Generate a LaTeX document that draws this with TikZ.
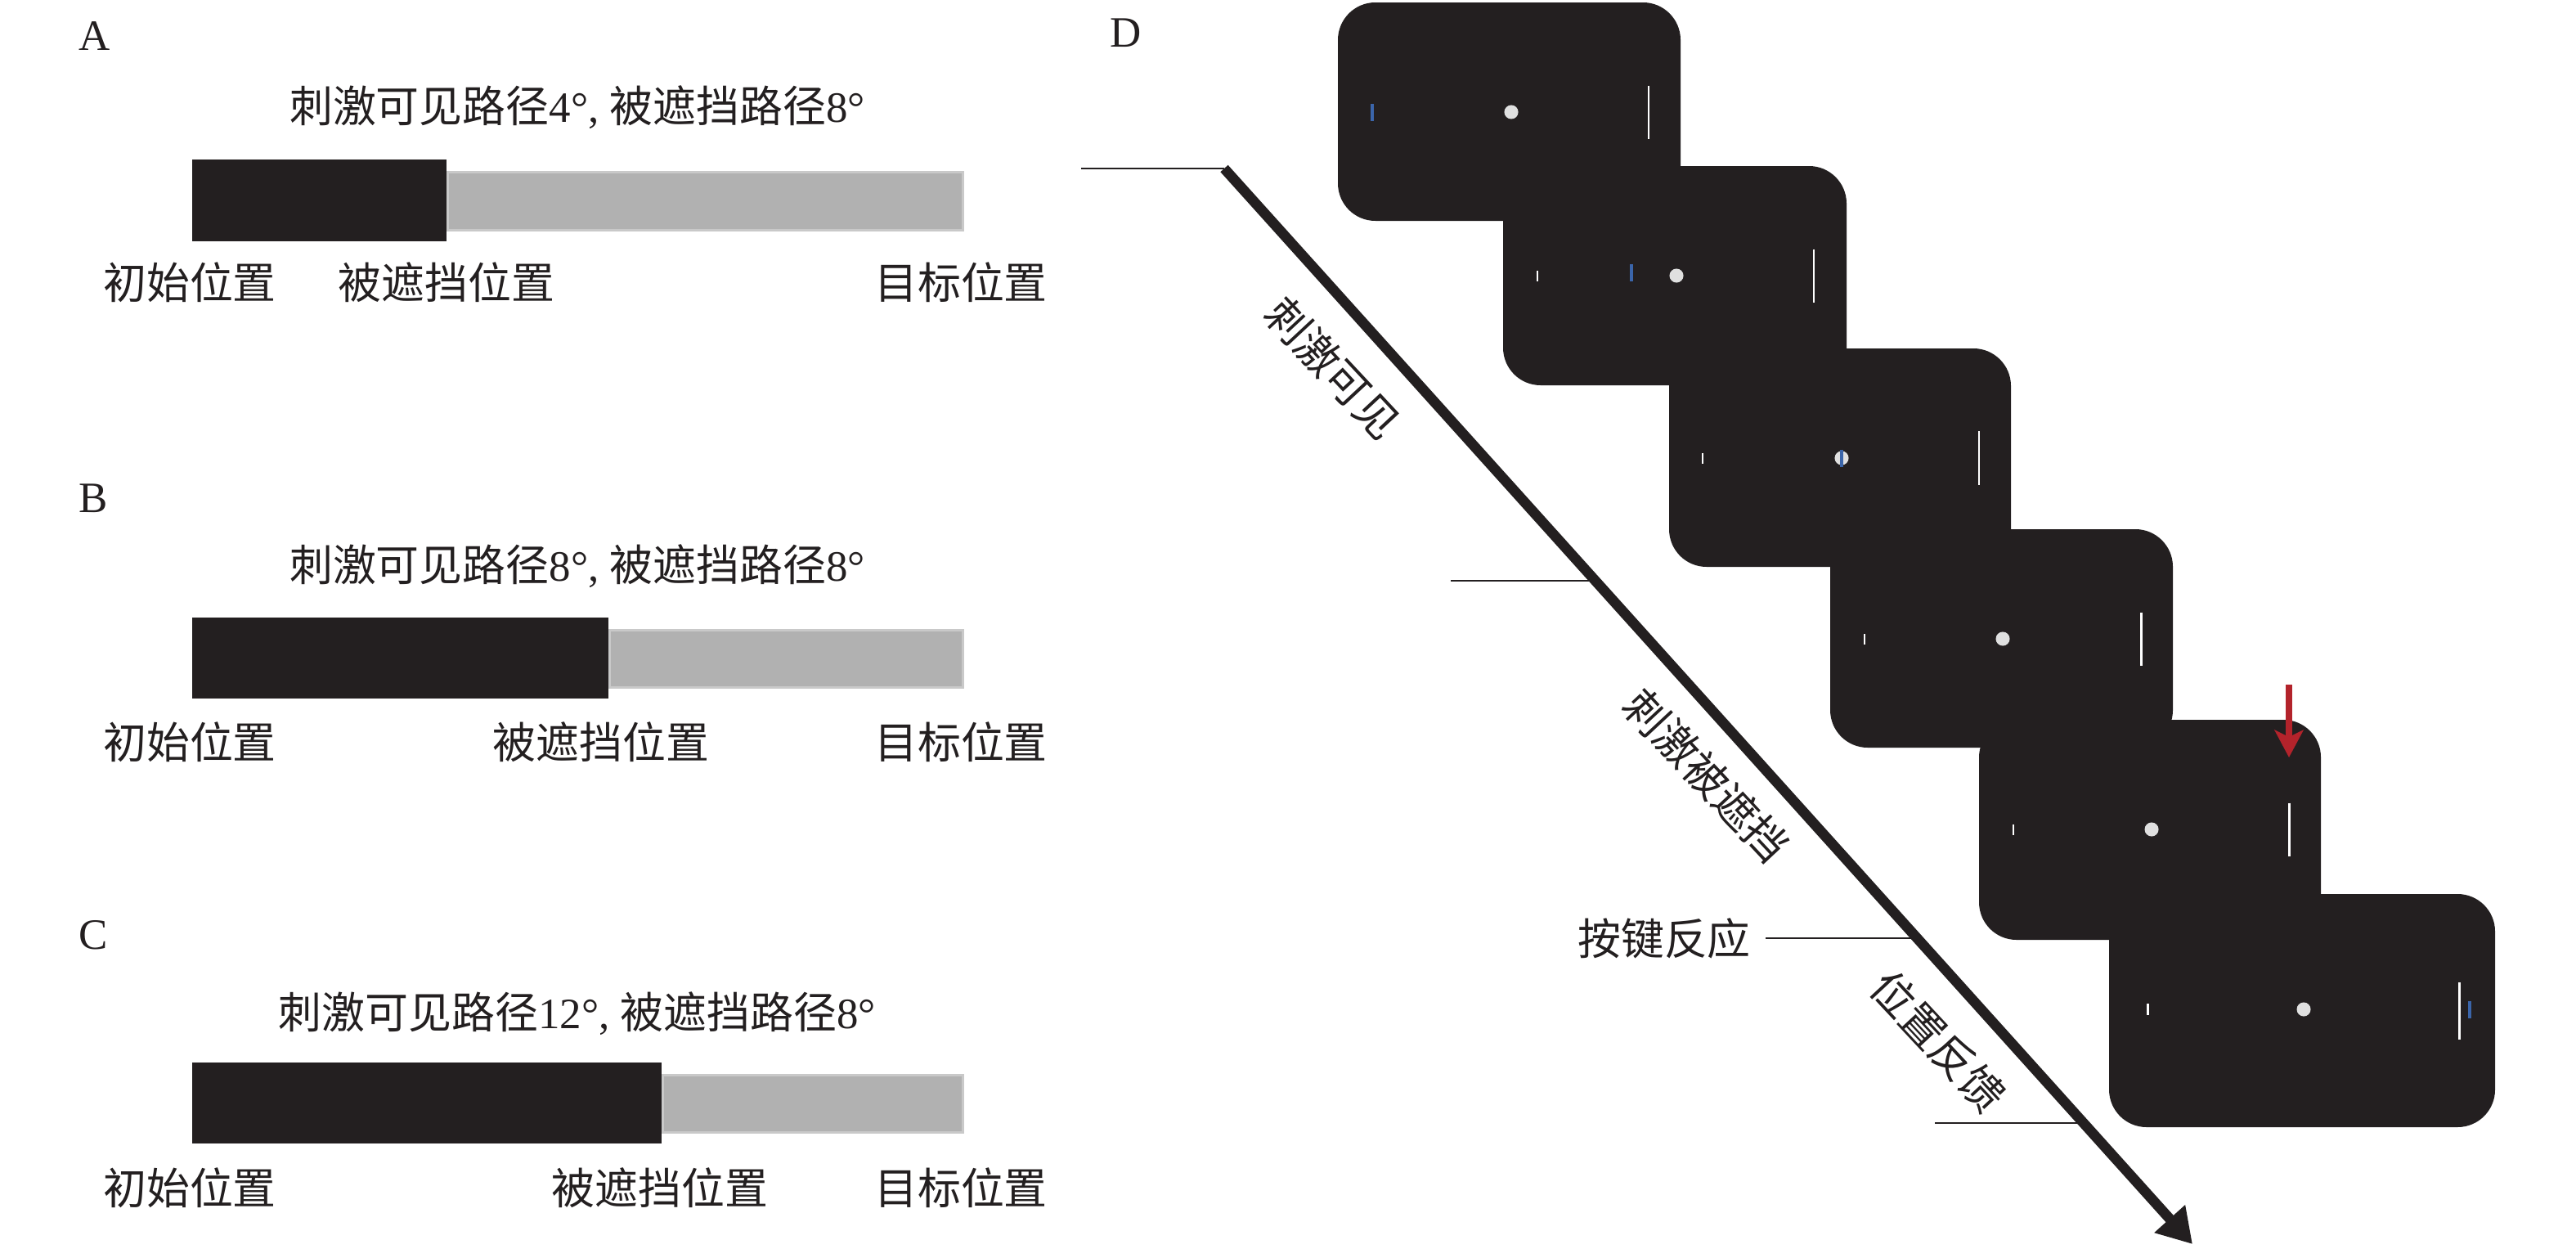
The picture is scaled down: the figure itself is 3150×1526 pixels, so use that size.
\documentclass[tikz,border=0pt]{standalone}
\usepackage{fontspec}
\setmainfont{Liberation Serif}
\newfontfamily\cjkfont{Noto Sans CJK SC}
\newcommand{\zh}[1]{{\cjkfont #1}}
\usetikzlibrary{arrows.meta}
\definecolor{ink}{HTML}{231F20}
\definecolor{barfill}{HTML}{B1B1B1}
\definecolor{baredge}{HTML}{C9C9C9}
\definecolor{dotgray}{HTML}{E0E0E0}
\definecolor{cueblue}{HTML}{3B65AA}
\definecolor{cuered}{HTML}{B3232B}
\tikzset{
  lbl/.style={font=\fontsize{12.7}{15}\selectfont, inner sep=0pt, text=ink},
  visbar/.style={fill=ink},
  hidbar/.style={fill=barfill, draw=baredge, line width=0.72pt},
  screen/.style={fill=ink, rounded corners=11pt},
  tickw/.style={draw=white, line width=0.7pt},
  tickb/.style={draw=cueblue, line width=0.75pt},
  fixdot/.style={fill=dotgray},
  thinline/.style={draw=ink, line width=0.6pt},
  timeline/.style={draw=ink, line width=3pt, -{Triangle[length=10pt,width=11.5pt]}},
  redarrow/.style={draw=cuered, line width=1.8pt, -{Stealth[length=8pt,width=8.4pt,inset=2pt]}},
}
\begin{document}
\begin{tikzpicture}[x=0.24pt,y=-0.24pt]
\useasboundingbox (0,0) rectangle (3150,1526);
\fill[white] (0,0) rectangle (3150,1526);

% ---------------- Panel A ----------------
\node[lbl] (lA) at (116,44.5) {A};
\node[lbl] (tA) at (706,131) {\zh{刺激可见路径}4°, \zh{被遮挡路径}8°};
\draw[hidbar] (547.5,210.5) rectangle (1177.5,281.5);
\fill[visbar] (235,195) rectangle (546,295);
\node[lbl] (a1) at (232,345) {\zh{初始位置}};
\node[lbl] (a2) at (546,345) {\zh{被遮挡位置}};
\node[lbl] (a3) at (1175,345) {\zh{目标位置}};

% ---------------- Panel B ----------------
\node[lbl] (lB) at (114,609.5) {B};
\node[lbl] (tB) at (706,692) {\zh{刺激可见路径}8°, \zh{被遮挡路径}8°};
\draw[hidbar] (745.5,770.5) rectangle (1177.5,840.5);
\fill[visbar] (235,755) rectangle (744,854);
\node[lbl] (b1) at (232,907) {\zh{初始位置}};
\node[lbl] (b2) at (735,907) {\zh{被遮挡位置}};
\node[lbl] (b3) at (1175,907) {\zh{目标位置}};

% ---------------- Panel C ----------------
\node[lbl] (lC) at (114,1143.5) {C};
\node[lbl] (tC) at (706,1239) {\zh{刺激可见路径}12°, \zh{被遮挡路径}8°};
\draw[hidbar] (810.5,1314.5) rectangle (1177.5,1384.5);
\fill[visbar] (235,1299) rectangle (809,1398);
\node[lbl] (c1) at (232,1452) {\zh{初始位置}};
\node[lbl] (c2) at (807,1452) {\zh{被遮挡位置}};
\node[lbl] (c3) at (1175,1452) {\zh{目标位置}};

% ---------------- Panel D ----------------
\node[lbl] (lD) at (1377,40.5) {D};

% screens
\fill[screen] (1636,3) rectangle (2055,270);
\fill[screen] (1838,203) rectangle (2258,471);
\fill[screen] (2041,426) rectangle (2459,693);
\fill[screen] (2238,647) rectangle (2657,914);
\fill[screen] (2420,880) rectangle (2838,1149);
\fill[screen] (2579,1093) rectangle (3051,1378);

% screen 1
\draw[tickb] (1678,127) -- (1678,148);
\fill[fixdot] (1848,137) circle [radius=2.05pt];
\draw[tickw] (2016,104.5) -- (2016,169.5);
% screen 2
\draw[tickw] (1880,330.5) -- (1880,343.5);
\draw[tickb] (1995,323) -- (1995,344);
\fill[fixdot] (2050,337) circle [radius=2.05pt];
\draw[tickw] (2218,304.5) -- (2218,369.5);
% screen 3
\draw[tickw] (2082,553.5) -- (2082,566.5);
\fill[fixdot] (2252,560) circle [radius=2.05pt];
\draw[tickb] (2252,549.5) -- (2252,570.5);
\draw[tickw] (2420,527) -- (2420,593);
% screen 4
\draw[tickw] (2280,774.5) -- (2280,787.5);
\fill[fixdot] (2449,781) circle [radius=2.05pt];
\draw[tickw] (2618,748.5) -- (2618,813.5);
% screen 5
\draw[tickw] (2462,1007.5) -- (2462,1020.5);
\fill[fixdot] (2631,1014) circle [radius=2.05pt];
\draw[tickw] (2799,981.5) -- (2799,1046.5);
\coordinate (rtop) at (2799,837);
\coordinate (rtip) at (2799,926);
\draw[redarrow] (rtop) -- (rtip);
% screen 6
\draw[tickw] (2626,1227) -- (2626,1241);
\fill[fixdot] (2817,1234) circle [radius=2.05pt];
\draw[tickw] (3007,1201) -- (3007,1271);
\draw[tickb] (3020,1224) -- (3020,1245);

% timeline
\coordinate (tstart) at (1497,206);
\coordinate (ttip) at (2681,1521);
\draw[timeline] (tstart) -- (ttip);

\coordinate (h1a) at (1322,206);
\coordinate (h2a) at (1774,710);
\coordinate (h2b) at (1950.8,710);
\coordinate (h3a) at (2159,1147);
\coordinate (h3b) at (2344.3,1147);
\coordinate (h4a) at (2366,1373);
\coordinate (h4b) at (2547.8,1373);
\draw[thinline] (h1a) -- (tstart);
\draw[thinline] (h2a) -- (h2b);
\draw[thinline] (h3a) -- (h3b);
\draw[thinline] (h4a) -- (h4b);

\node[lbl, rotate=-47] (p1) at (1630,450) {\zh{刺激可见}};
\node[lbl, rotate=-47] (p2) at (2087,948) {\zh{刺激被遮挡}};
\node[lbl, rotate=-47] (p3) at (2370,1273) {\zh{位置反馈}};
\node[lbl] (p4) at (2035,1147) {\zh{按键反应}};
\end{tikzpicture}
\end{document}
